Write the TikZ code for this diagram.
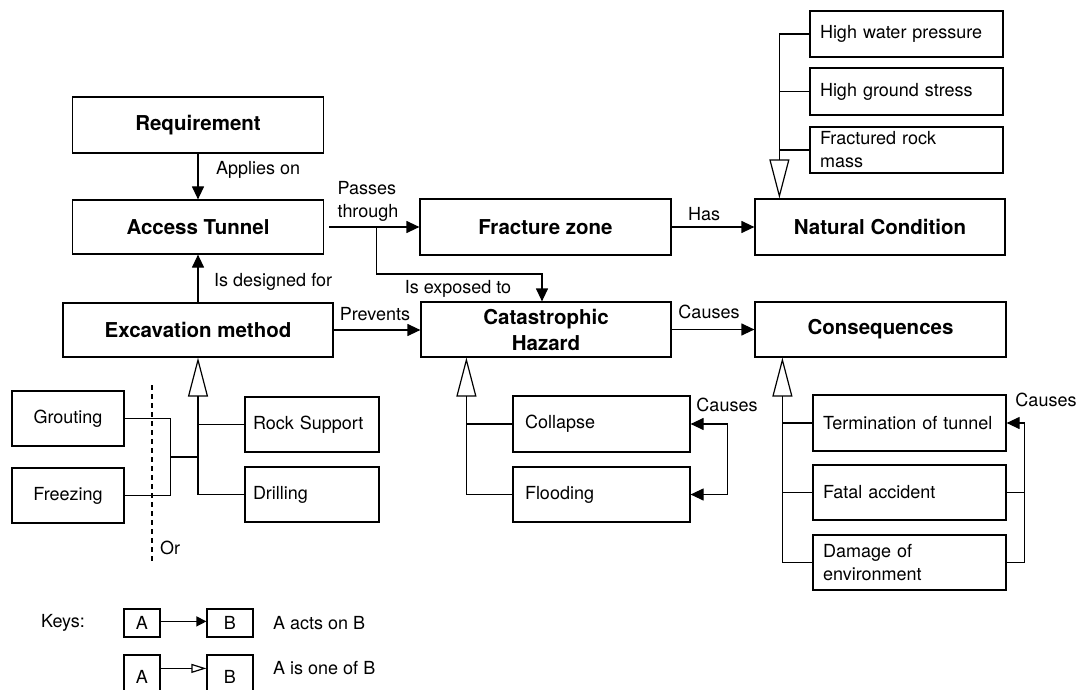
\documentclass[tikz,border=0pt]{standalone}
\usepackage{fontspec}
\setmainfont{TeX Gyre Heros}
\usetikzlibrary{arrows.meta,calc}

\begin{document}
\begin{tikzpicture}[x=1pt,y=-1pt,
  lw/.style={line width=1.2pt},
  box/.style={draw, lw, inner sep=0pt},
  mainbox/.style={box, minimum width=251pt, minimum height=55pt,
    align=center, font=\bfseries\fontsize{20.5}{26}\selectfont},
  subbox/.style={box, inner xsep=10pt, text width=173pt, minimum height=55pt,
    align=left, font=\fontsize{18}{23}\selectfont},
  midbox/.style={box, inner xsep=8pt, text width=118pt, minimum height=55pt,
    align=left, font=\fontsize{18}{23}\selectfont},
  orbox/.style={box, minimum width=112pt, minimum height=55pt,
    align=center, font=\fontsize{18}{23}\selectfont},
  keybox/.style={box, minimum width=36pt, font=\fontsize{18}{22}\selectfont},
  lbl/.style={inner sep=0pt, font=\fontsize{18}{23}\selectfont},
  link/.style={lw},
  acts/.style={lw, -{Triangle[length=13pt,width=12pt]}},
  dual/.style={lw, {Triangle[length=13pt,width=12pt]}-{Triangle[length=13pt,width=12pt]}},
  isa/.style={lw, -{Triangle[open,length=39pt,width=20pt]}},
  keyacts/.style={lw, -{Triangle[length=10pt,width=10pt]}},
  keyisa/.style={lw, -{Triangle[open,length=15pt,width=9pt]}}
]
\useasboundingbox (0,0) rectangle (1077,690);
\clip (0,0) rectangle (1077,690);

% main concepts
\node[mainbox, minimum height=56pt] (req) at (198,125) {Requirement};
\node[mainbox, minimum height=54pt] (acc) at (198,227) {Access Tunnel};
\node[mainbox, minimum width=270pt, minimum height=54pt] (exc) at (198,330) {Excavation method};
\node[mainbox, minimum height=56pt] (frac) at (545.5,227) {Fracture zone};
\node[mainbox, minimum width=250pt, minimum height=56pt] (nat) at (880,227) {Natural Condition};
\node[mainbox, minimum width=250pt] (cat) at (546,329.5) {Catastrophic\\Hazard};
\node[mainbox] (cons) at (880.5,329.5) {Consequences};

% natural conditions
\node[subbox, minimum height=46pt] (hwp) at (906.5,34) {High water pressure};
\node[subbox, minimum height=47pt] (hgs) at (906.5,91.5) {High ground stress};
\node[subbox, minimum height=46pt] (frm) at (906.5,150) {Fractured rock\\mass};

% excavation methods
\node[midbox] (rs) at (312,424.5) {Rock Support};
\node[midbox] (dr) at (312,494.5) {Drilling};
\node[orbox] (gr) at (68,418.5) {Grouting};
\node[orbox] (fr) at (68,495.5) {Freezing};

% hazards
\node[box, inner xsep=12pt, text width=153pt, minimum height=56pt, align=left,
  font=\fontsize{18}{23}\selectfont] (col) at (601.5,424) {Collapse};
\node[box, inner xsep=12pt, text width=153pt, minimum height=55pt, align=left,
  font=\fontsize{18}{23}\selectfont] (fl) at (601.5,494.5) {Flooding};

% consequences
\node[subbox, minimum height=56pt] (term) at (909.5,423) {Termination of tunnel};
\node[subbox] (fat) at (909.5,492.5) {Fatal accident};
\node[subbox] (dmg) at (909.5,562.5) {Damage of\\environment};

% relations between main concepts
\draw[acts] (req.south) -- (acc.north);
\node[lbl, anchor=west] (lapp) at (216,170) {Applies on};
\draw[acts] (exc.north) -- (acc.south);
\node[lbl, anchor=west] (ldes) at (214,282) {Is designed for};
\draw[acts, shorten <=5pt] (acc.east) -- (frac.west);
\node[lbl, align=left] (lpass) at (368,201.5) {Passes\\through};
\coordinate (split) at ($(acc.east)+(52,0)$);
\draw[acts] (split) -- ++(0,47) -| ($(cat.north)+(-4,0)$);
\node[lbl] (lexp) at (458,289) {Is exposed to};
\draw[acts] (exc.east) -- (exc.east -| cat.west);
\node[lbl] (lprev) at (375,314) {Prevents};
\draw[acts] (cat.east) -- (cons.west);
\node[lbl] (lcau) at (709,312) {Causes};
\draw[acts] (frac.east) -- (nat.west);
\node[lbl] (lhas) at (704,214) {Has};

% natural condition tree
\coordinate (ntip) at ($(nat.north west)+(25,0)$);
\draw[isa] (hwp.west -| ntip) -- (ntip);
\draw[link] (hwp.west) -- (hwp.west -| ntip);
\draw[link] (hgs.west) -- (hgs.west -| ntip);
\draw[link] (frm.west) -- (frm.west -| ntip);

% excavation method tree
\draw[isa] (dr.west -| exc.south) -- (exc.south);
\draw[link] (rs.west) -- (rs.west -| exc.south);
\draw[link] (dr.west) -- (dr.west -| exc.south);
\draw[link] (gr.east) -- ++(46,0) |- (fr.east);
\coordinate (orj) at ($(gr.east)!0.5!(fr.east)+(46,0)$);
\draw[link] (orj) -- (orj -| exc.south);
\coordinate (ortop) at (152,385);
\coordinate (orbot) at (152,562);
\draw[lw, line width=1.5pt, dash pattern=on 5pt off 4pt] (ortop) -- (orbot);
\node[lbl, anchor=west] (lor) at (160,548) {Or};

% hazard tree
\coordinate (ctip) at ($(cat.south west)+(46,0)$);
\draw[isa] (fl.west -| ctip) -- (ctip);
\draw[link] (col.west) -- (col.west -| ctip);
\draw[link] (fl.west) -- (fl.west -| ctip);
\draw[dual] (col.east) -- ++(37,0) |- (fl.east);
\node[lbl] (lcau2) at (727,405) {Causes};

% consequence tree
\coordinate (qtip) at ($(cons.south west)+(28,0)$);
\draw[isa] (dmg.west -| qtip) -- (qtip);
\draw[link] (term.west) -- (term.west -| qtip);
\draw[link] (fat.west) -- (fat.west -| qtip);
\draw[link] (dmg.west) -- (dmg.west -| qtip);
\coordinate (qloop) at ($(dmg.east)+(18,0)$);
\draw[acts] (dmg.east) -- (qloop) |- (term.east);
\draw[link] (fat.east) -- (fat.east -| qloop);
\node[lbl] (lcau3) at (1046,400) {Causes};

% legend
\node[lbl] (keys) at (63,623) {Keys:};
\node[keybox, minimum height=28pt] (ka1) at (142,623) {A};
\node[keybox, minimum width=46pt, minimum height=28pt] (kb1) at (230,623) {B};
\draw[keyacts] ($(ka1.north east)+(0,13)$) -- ($(kb1.north west)+(0,13)$);
\node[lbl, anchor=west] (kt1) at (273,623) {A acts on B};
\node[keybox, minimum height=44pt] (ka2) at (142,677) {A};
\node[keybox, minimum width=46pt, minimum height=44pt] (kb2) at (230,677) {B};
\draw[keyisa] ($(ka2.north east)+(0,14)$) -- ($(kb2.north west)+(0,14)$);
\node[lbl, anchor=west] (kt2) at (273,668) {A is one of B};
\end{tikzpicture}
\end{document}
